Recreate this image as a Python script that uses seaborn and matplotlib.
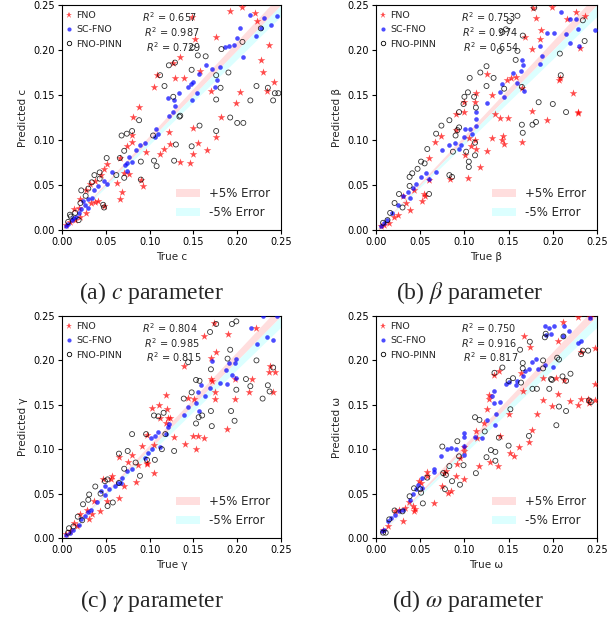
import matplotlib
matplotlib.use("Agg")
import matplotlib.pyplot as plt
import seaborn as sns
import numpy as np
from matplotlib.lines import Line2D
from matplotlib.patches import Patch

# (true, predicted) pairs, one list per model and parameter
c_fno = [(0.148, 0.237), (0.192, 0.243), (0.206, 0.248), (0.220, 0.241), (0.223, 0.232), (0.236, 0.206),
         (0.227, 0.189), (0.230, 0.176), (0.242, 0.164), (0.234, 0.154), (0.203, 0.153), (0.199, 0.141),
         (0.181, 0.126), (0.176, 0.214), (0.152, 0.212), (0.135, 0.192), (0.127, 0.186), (0.129, 0.169),
         (0.139, 0.169), (0.158, 0.177), (0.170, 0.154), (0.108, 0.172), (0.105, 0.159), (0.088, 0.137),
         (0.081, 0.126), (0.122, 0.109), (0.123, 0.096), (0.149, 0.113), (0.149, 0.084), (0.155, 0.097),
         (0.165, 0.089), (0.176, 0.103), (0.112, 0.085), (0.116, 0.090), (0.135, 0.076), (0.146, 0.075),
         (0.080, 0.106), (0.080, 0.098), (0.074, 0.093), (0.096, 0.087), (0.066, 0.080), (0.071, 0.063),
         (0.076, 0.062), (0.068, 0.042), (0.063, 0.052), (0.092, 0.049), (0.090, 0.056), (0.051, 0.073),
         (0.048, 0.068), (0.045, 0.061), (0.038, 0.055), (0.032, 0.051), (0.027, 0.045), (0.033, 0.030),
         (0.038, 0.031), (0.041, 0.032), (0.027, 0.019), (0.021, 0.034), (0.048, 0.027), (0.019, 0.025),
         (0.014, 0.023), (0.015, 0.011), (0.009, 0.009), (0.005, 0.006), (0.021, 0.015), (0.066, 0.035)]
c_scfno = [(0.245, 0.238), (0.239, 0.228), (0.231, 0.236), (0.215, 0.239), (0.227, 0.224), (0.222, 0.216),
           (0.203, 0.224), (0.207, 0.192), (0.200, 0.213), (0.196, 0.206), (0.191, 0.205), (0.186, 0.203),
           (0.180, 0.181), (0.177, 0.167), (0.175, 0.159), (0.171, 0.179), (0.164, 0.183), (0.156, 0.173),
           (0.147, 0.162), (0.150, 0.164), (0.148, 0.144), (0.154, 0.152), (0.144, 0.159), (0.128, 0.144),
           (0.129, 0.138), (0.127, 0.131), (0.122, 0.127), (0.133, 0.152), (0.121, 0.147), (0.107, 0.112),
           (0.110, 0.107), (0.106, 0.103), (0.095, 0.097), (0.089, 0.095), (0.085, 0.089), (0.076, 0.081),
           (0.080, 0.076), (0.072, 0.072), (0.074, 0.074), (0.057, 0.064), (0.048, 0.055), (0.051, 0.051),
           (0.041, 0.049), (0.037, 0.045), (0.034, 0.036), (0.030, 0.035), (0.024, 0.032), (0.022, 0.023),
           (0.019, 0.019), (0.016, 0.015), (0.011, 0.011), (0.007, 0.007), (0.004, 0.004), (0.013, 0.013),
           (0.030, 0.025), (0.026, 0.028), (0.074, 0.066)]
c_pinn = [(0.149, 0.203), (0.182, 0.201), (0.206, 0.209), (0.227, 0.224), (0.155, 0.194), (0.164, 0.193),
          (0.122, 0.183), (0.129, 0.186), (0.148, 0.178), (0.112, 0.172), (0.117, 0.160), (0.176, 0.172),
          (0.190, 0.175), (0.181, 0.158), (0.222, 0.160), (0.235, 0.158), (0.243, 0.152), (0.247, 0.152),
          (0.241, 0.144), (0.215, 0.144), (0.176, 0.145), (0.127, 0.148), (0.135, 0.127), (0.134, 0.126),
          (0.157, 0.116), (0.192, 0.125), (0.200, 0.119), (0.207, 0.119), (0.176, 0.110), (0.148, 0.093),
          (0.130, 0.095), (0.128, 0.077), (0.105, 0.077), (0.108, 0.071), (0.090, 0.076), (0.090, 0.056),
          (0.088, 0.122), (0.080, 0.110), (0.068, 0.105), (0.074, 0.107), (0.104, 0.105), (0.071, 0.088),
          (0.066, 0.080), (0.071, 0.058), (0.062, 0.061), (0.051, 0.080), (0.043, 0.064), (0.037, 0.061),
          (0.043, 0.057), (0.047, 0.028), (0.048, 0.025), (0.034, 0.053), (0.030, 0.046), (0.027, 0.038),
          (0.022, 0.044), (0.021, 0.030), (0.015, 0.019), (0.010, 0.015), (0.009, 0.017), (0.007, 0.009),
          (0.019, 0.011)]

beta_fno = [(0.178, 0.247), (0.199, 0.248), (0.181, 0.236), (0.187, 0.222), (0.216, 0.234), (0.226, 0.242),
            (0.236, 0.238), (0.231, 0.202), (0.223, 0.152), (0.229, 0.131), (0.228, 0.130), (0.208, 0.169),
            (0.207, 0.167), (0.194, 0.122), (0.177, 0.132), (0.165, 0.158), (0.169, 0.215), (0.177, 0.201),
            (0.185, 0.212), (0.148, 0.167), (0.153, 0.169), (0.158, 0.170), (0.125, 0.173), (0.131, 0.150),
            (0.135, 0.129), (0.140, 0.124), (0.149, 0.125), (0.142, 0.100), (0.144, 0.104), (0.145, 0.096),
            (0.165, 0.098), (0.131, 0.102), (0.125, 0.088), (0.113, 0.152), (0.112, 0.142), (0.099, 0.131),
            (0.099, 0.142), (0.091, 0.129), (0.113, 0.090), (0.101, 0.083), (0.105, 0.102), (0.118, 0.070),
            (0.104, 0.058), (0.090, 0.111), (0.074, 0.104), (0.067, 0.098), (0.084, 0.057), (0.060, 0.080),
            (0.060, 0.056), (0.054, 0.040), (0.052, 0.032), (0.038, 0.022), (0.034, 0.030), (0.030, 0.038),
            (0.025, 0.017), (0.020, 0.015), (0.015, 0.008), (0.009, 0.006), (0.006, 0.004), (0.043, 0.044),
            (0.055, 0.038), (0.112, 0.100), (0.107, 0.093)]
beta_scfno = [(0.209, 0.242), (0.219, 0.234), (0.226, 0.234), (0.248, 0.222), (0.229, 0.223), (0.194, 0.219),
              (0.201, 0.219), (0.215, 0.218), (0.230, 0.205), (0.219, 0.208), (0.185, 0.205), (0.188, 0.193),
              (0.165, 0.189), (0.166, 0.183), (0.164, 0.177), (0.160, 0.163), (0.167, 0.155), (0.155, 0.174),
              (0.143, 0.162), (0.145, 0.148), (0.140, 0.153), (0.126, 0.141), (0.113, 0.131), (0.113, 0.123),
              (0.113, 0.116), (0.106, 0.112), (0.101, 0.112), (0.100, 0.103), (0.109, 0.107), (0.089, 0.097),
              (0.083, 0.095), (0.096, 0.094), (0.094, 0.090), (0.075, 0.089), (0.068, 0.064), (0.057, 0.063),
              (0.051, 0.059), (0.042, 0.047), (0.045, 0.051), (0.036, 0.042), (0.030, 0.038), (0.025, 0.028),
              (0.018, 0.019), (0.013, 0.011), (0.009, 0.008), (0.006, 0.004), (0.060, 0.057), (0.039, 0.036),
              (0.185, 0.184)]
beta_pinn = [(0.179, 0.247), (0.160, 0.238), (0.151, 0.232), (0.147, 0.223), (0.143, 0.220), (0.166, 0.216),
             (0.140, 0.199), (0.160, 0.199), (0.158, 0.189), (0.234, 0.233), (0.236, 0.210), (0.208, 0.196),
             (0.209, 0.172), (0.215, 0.131), (0.200, 0.140), (0.184, 0.142), (0.181, 0.120), (0.177, 0.117),
             (0.165, 0.117), (0.166, 0.108), (0.165, 0.159), (0.125, 0.182), (0.118, 0.175), (0.106, 0.169),
             (0.133, 0.169), (0.125, 0.160), (0.145, 0.157), (0.104, 0.153), (0.100, 0.148), (0.111, 0.148),
             (0.099, 0.140), (0.113, 0.136), (0.094, 0.131), (0.094, 0.114), (0.083, 0.122), (0.074, 0.116),
             (0.068, 0.107), (0.092, 0.111), (0.090, 0.105), (0.112, 0.097), (0.105, 0.076), (0.112, 0.083),
             (0.102, 0.087), (0.105, 0.070), (0.087, 0.087), (0.083, 0.061), (0.086, 0.059), (0.058, 0.090),
             (0.051, 0.076), (0.055, 0.074), (0.047, 0.068), (0.041, 0.063), (0.038, 0.059), (0.060, 0.040),
             (0.038, 0.049), (0.026, 0.040), (0.021, 0.030), (0.030, 0.025), (0.016, 0.019), (0.013, 0.011),
             (0.008, 0.008)]

gamma_fno = [(0.173, 0.242), (0.162, 0.227), (0.189, 0.230), (0.222, 0.237), (0.176, 0.209), (0.170, 0.203),
             (0.139, 0.194), (0.170, 0.179), (0.171, 0.177), (0.175, 0.164), (0.175, 0.157), (0.198, 0.157),
             (0.217, 0.179), (0.214, 0.164), (0.236, 0.187), (0.237, 0.194), (0.241, 0.164), (0.198, 0.179),
             (0.144, 0.158), (0.151, 0.156), (0.119, 0.161), (0.111, 0.150), (0.103, 0.146), (0.120, 0.145),
             (0.121, 0.135), (0.123, 0.135), (0.112, 0.135), (0.119, 0.130), (0.188, 0.123), (0.149, 0.115),
             (0.155, 0.115), (0.162, 0.113), (0.140, 0.106), (0.153, 0.100), (0.128, 0.114), (0.097, 0.116),
             (0.091, 0.104), (0.105, 0.105), (0.097, 0.083), (0.105, 0.073), (0.080, 0.093), (0.075, 0.086),
             (0.065, 0.091), (0.087, 0.082), (0.085, 0.063), (0.071, 0.059), (0.057, 0.070), (0.056, 0.066),
             (0.047, 0.067), (0.051, 0.042), (0.065, 0.045), (0.037, 0.042), (0.043, 0.030), (0.031, 0.021),
             (0.034, 0.027), (0.021, 0.027), (0.028, 0.032), (0.017, 0.013), (0.014, 0.017), (0.009, 0.008),
             (0.005, 0.004), (0.243, 0.187), (0.097, 0.084)]
gamma_scfno = [(0.230, 0.250), (0.245, 0.250), (0.216, 0.237), (0.234, 0.226), (0.241, 0.223), (0.223, 0.219),
               (0.199, 0.202), (0.191, 0.197), (0.187, 0.189), (0.194, 0.184), (0.188, 0.173), (0.180, 0.174),
               (0.199, 0.180), (0.197, 0.197), (0.171, 0.199), (0.169, 0.169), (0.163, 0.160), (0.159, 0.172),
               (0.155, 0.164), (0.153, 0.152), (0.156, 0.143), (0.144, 0.148), (0.139, 0.139), (0.122, 0.128),
               (0.121, 0.125), (0.119, 0.117), (0.110, 0.119), (0.106, 0.115), (0.102, 0.113), (0.103, 0.100),
               (0.112, 0.103), (0.098, 0.096), (0.095, 0.090), (0.080, 0.078), (0.074, 0.075), (0.068, 0.068),
               (0.064, 0.062), (0.060, 0.059), (0.054, 0.055), (0.049, 0.058), (0.045, 0.053), (0.049, 0.048),
               (0.040, 0.041), (0.033, 0.032), (0.030, 0.029), (0.026, 0.025), (0.022, 0.021), (0.019, 0.015),
               (0.013, 0.009), (0.009, 0.006), (0.005, 0.003), (0.067, 0.062)]
gamma_pinn = [(0.176, 0.241), (0.169, 0.232), (0.194, 0.241), (0.199, 0.244), (0.144, 0.198), (0.192, 0.212),
              (0.189, 0.202), (0.170, 0.190), (0.153, 0.178), (0.157, 0.177), (0.222, 0.200), (0.210, 0.179),
              (0.215, 0.171), (0.229, 0.157), (0.235, 0.172), (0.237, 0.165), (0.241, 0.192), (0.199, 0.167),
              (0.193, 0.143), (0.197, 0.132), (0.171, 0.126), (0.170, 0.143), (0.156, 0.136), (0.160, 0.138),
              (0.153, 0.129), (0.139, 0.157), (0.148, 0.164), (0.116, 0.141), (0.105, 0.138), (0.110, 0.137),
              (0.096, 0.117), (0.118, 0.117), (0.128, 0.098), (0.114, 0.100), (0.106, 0.088), (0.097, 0.088),
              (0.080, 0.117), (0.075, 0.098), (0.065, 0.095), (0.071, 0.078), (0.084, 0.085), (0.089, 0.070),
              (0.065, 0.062), (0.052, 0.066), (0.049, 0.064), (0.044, 0.050), (0.038, 0.058), (0.058, 0.040),
              (0.052, 0.036), (0.031, 0.049), (0.030, 0.043), (0.024, 0.038), (0.023, 0.020), (0.018, 0.024),
              (0.013, 0.013), (0.008, 0.011), (0.007, 0.006)]

omega_fno = [(0.211, 0.243), (0.229, 0.249), (0.242, 0.249), (0.206, 0.222), (0.167, 0.228), (0.174, 0.215),
             (0.232, 0.209), (0.248, 0.214), (0.248, 0.173), (0.248, 0.155), (0.240, 0.157), (0.241, 0.152),
             (0.232, 0.156), (0.229, 0.150), (0.220, 0.154), (0.213, 0.178), (0.206, 0.162), (0.199, 0.149),
             (0.204, 0.180), (0.189, 0.180), (0.189, 0.155), (0.182, 0.140), (0.177, 0.122), (0.173, 0.108),
             (0.162, 0.103), (0.150, 0.140), (0.166, 0.165), (0.164, 0.186), (0.139, 0.188), (0.134, 0.183),
             (0.128, 0.161), (0.128, 0.156), (0.125, 0.145), (0.122, 0.130), (0.140, 0.115), (0.114, 0.113),
             (0.113, 0.120), (0.152, 0.096), (0.156, 0.092), (0.129, 0.086), (0.138, 0.081), (0.117, 0.081),
             (0.100, 0.103), (0.100, 0.098), (0.095, 0.090), (0.099, 0.066), (0.090, 0.070), (0.085, 0.053),
             (0.082, 0.051), (0.077, 0.073), (0.079, 0.075), (0.075, 0.058), (0.066, 0.039), (0.058, 0.074),
             (0.058, 0.070), (0.051, 0.062), (0.049, 0.064), (0.044, 0.033), (0.042, 0.036), (0.043, 0.030),
             (0.037, 0.041), (0.033, 0.034), (0.026, 0.032), (0.022, 0.030), (0.030, 0.019), (0.014, 0.014),
             (0.008, 0.009), (0.092, 0.083)]
omega_scfno = [(0.191, 0.239), (0.201, 0.239), (0.196, 0.237), (0.198, 0.230), (0.213, 0.239), (0.218, 0.233),
               (0.211, 0.227), (0.242, 0.248), (0.232, 0.222), (0.229, 0.220), (0.192, 0.229), (0.177, 0.198),
               (0.173, 0.190), (0.183, 0.190), (0.191, 0.195), (0.200, 0.193), (0.181, 0.202), (0.168, 0.188),
               (0.166, 0.182), (0.160, 0.177), (0.151, 0.176), (0.147, 0.173), (0.158, 0.172), (0.134, 0.166),
               (0.131, 0.160), (0.140, 0.153), (0.133, 0.152), (0.136, 0.140), (0.135, 0.127), (0.125, 0.133),
               (0.120, 0.113), (0.112, 0.114), (0.100, 0.118), (0.100, 0.114), (0.100, 0.104), (0.100, 0.093),
               (0.090, 0.100), (0.085, 0.101), (0.080, 0.100), (0.074, 0.092), (0.066, 0.078), (0.066, 0.074),
               (0.052, 0.068), (0.048, 0.060), (0.052, 0.056), (0.045, 0.055), (0.042, 0.049), (0.030, 0.032),
               (0.026, 0.030), (0.022, 0.026), (0.017, 0.023), (0.014, 0.019), (0.009, 0.009), (0.007, 0.008),
               (0.038, 0.043)]
omega_pinn = [(0.192, 0.230), (0.191, 0.226), (0.174, 0.221), (0.163, 0.212), (0.166, 0.197), (0.166, 0.191),
              (0.189, 0.200), (0.205, 0.203), (0.207, 0.201), (0.212, 0.227), (0.232, 0.207), (0.234, 0.211),
              (0.240, 0.211), (0.220, 0.185), (0.211, 0.182), (0.215, 0.177), (0.198, 0.179), (0.196, 0.168),
              (0.199, 0.178), (0.189, 0.191), (0.177, 0.168), (0.182, 0.168), (0.207, 0.148), (0.215, 0.143),
              (0.204, 0.127), (0.241, 0.155), (0.243, 0.153), (0.164, 0.175), (0.155, 0.180), (0.150, 0.177),
              (0.152, 0.145), (0.143, 0.192), (0.134, 0.186), (0.112, 0.136), (0.117, 0.133), (0.123, 0.120),
              (0.139, 0.113), (0.130, 0.099), (0.135, 0.097), (0.125, 0.091), (0.135, 0.087), (0.150, 0.104),
              (0.173, 0.115), (0.113, 0.073), (0.099, 0.082), (0.094, 0.092), (0.092, 0.109), (0.075, 0.103),
              (0.083, 0.081), (0.076, 0.073), (0.079, 0.071), (0.086, 0.064), (0.095, 0.060), (0.078, 0.055),
              (0.058, 0.068), (0.053, 0.039), (0.051, 0.051), (0.050, 0.055), (0.043, 0.056), (0.038, 0.047),
              (0.030, 0.030), (0.021, 0.031), (0.015, 0.021), (0.011, 0.006), (0.008, 0.006)]

r2_values = {"c": [0.657, 0.987, 0.729], "β": [0.753, 0.974, 0.654],
             "γ": [0.804, 0.985, 0.815], "ω": [0.750, 0.916, 0.817]}
model_names = ["FNO", "SC-FNO", "FNO-PINN"]
ticks = [0.00, 0.05, 0.10, 0.15, 0.20, 0.25]

panels = [
    ("c", "(a) $c$ parameter", [c_fno, c_scfno, c_pinn]),
    ("β", r"(b) $\beta$ parameter", [beta_fno, beta_scfno, beta_pinn]),
    ("γ", r"(c) $\gamma$ parameter", [gamma_fno, gamma_scfno, gamma_pinn]),
    ("ω", r"(d) $\omega$ parameter", [omega_fno, omega_scfno, omega_pinn]),
]

sns.set_theme(style="ticks", rc={"axes.edgecolor": "black", "axes.linewidth": 0.8,
                                 "xtick.major.size": 3, "ytick.major.size": 3,
                                 "xtick.major.width": 0.8, "ytick.major.width": 0.8,
                                 "xtick.color": "black", "ytick.color": "black"})
plt.rcParams["font.family"] = ["DejaVu Sans"]

W, H = 608, 619
fig = plt.figure(figsize=(W / 100, H / 100), dpi=100)

# pixel boxes (left, top, right, bottom) of each panel, caption centre
boxes = [(62, 5, 281, 230), (376, 5, 597, 230), (62, 316, 281, 538), (376, 316, 597, 538)]
caps = [(151, 293), (470, 293), (152, 601), (468, 601)]
r2_x = [[0.365, 0.376, 0.382], [0.383, 0.388, 0.392], [0.365, 0.376, 0.382], [0.383, 0.385, 0.392]]

line = np.linspace(0, 0.25, 50)

for i, (sym, caption, series) in enumerate(panels):
    l, t, r, b = boxes[i]
    ax = fig.add_axes([l / W, 1 - b / H, (r - l) / W, (b - t) / H])

    ax.fill_between(line, line, line * 1.05, color="#ffdede", lw=0, zorder=0)
    ax.fill_between(line, line * 0.95, line, color="#dcffff", lw=0, zorder=0)

    fno, scfno, pinn = [np.array(s) for s in series]
    sns.scatterplot(x=fno[:, 0], y=fno[:, 1], marker="*", s=34, color="red", alpha=0.7,
                    linewidth=0, ax=ax, zorder=3)
    sns.scatterplot(x=scfno[:, 0], y=scfno[:, 1], marker="o", s=11, color="blue", alpha=0.7,
                    linewidth=0, ax=ax, zorder=3)
    ax.scatter(pinn[:, 0], pinn[:, 1], marker="o", s=13, facecolors="none", edgecolors="black",
               linewidths=0.6, alpha=0.8, zorder=3)

    ax.set_xlim(0, 0.25)
    ax.set_ylim(0, 0.25)
    ax.set_xticks(ticks)
    ax.set_yticks(ticks)
    ax.set_xticklabels([f"{v:.2f}" for v in ticks])
    ax.set_yticklabels([f"{v:.2f}" for v in ticks])
    ax.tick_params(labelsize=7, pad=2)
    ax.set_xlabel(f"True {sym}", fontsize=7.5, labelpad=4)
    ax.set_ylabel(f"Predicted {sym}", fontsize=7.5, labelpad=4)

    handles = [
        Line2D([], [], marker="*", ls="", color="red", alpha=0.7, markersize=5, markeredgewidth=0),
        Line2D([], [], marker="o", ls="", color="blue", alpha=0.7, markersize=3, markeredgewidth=0),
        Line2D([], [], marker="o", ls="", markerfacecolor="none", markeredgecolor="black",
               markersize=3.2, markeredgewidth=0.6),
    ]
    leg1 = ax.legend(handles, model_names, loc="upper left", bbox_to_anchor=(0, 0.985), frameon=False,
                     fontsize=6.8, handlelength=0.8, handletextpad=0.4, borderaxespad=0,
                     borderpad=0.3, labelspacing=0.55)
    ax.add_artist(leg1)

    row_y = [0.947, 0.880, 0.813]
    for j, val in enumerate(r2_values[sym]):
        ax.text(r2_x[i][j], row_y[j], f"$R^2$ = {val:.3f}", transform=ax.transAxes,
                fontsize=7, va="center", ha="left", zorder=5)

    band_handles = [Patch(facecolor="#ffdede", edgecolor="none"),
                    Patch(facecolor="#dcffff", edgecolor="none")]
    ax.legend(band_handles, ["+5% Error", "-5% Error"], loc="lower right", frameon=False,
              fontsize=8.5)

    cx, cy = caps[i]
    fig.text(cx / W, 1 - cy / H, caption, ha="center", va="center", fontsize=17,
             family="Liberation Serif", math_fontfamily="stix")

fig.savefig("out.png", dpi=100)
